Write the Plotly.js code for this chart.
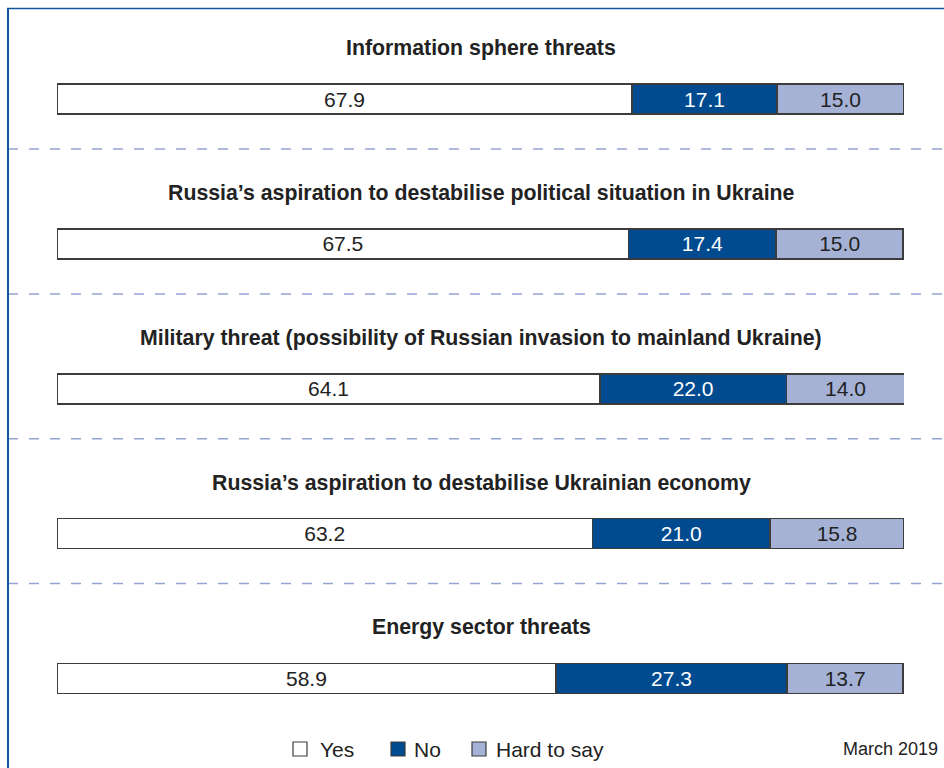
<!DOCTYPE html>
<html>
<head>
<meta charset="utf-8">
<script src="https://cdn.plot.ly/plotly-3.0.1.min.js"></script>
<style>
  html, body { margin: 0; padding: 0; background: #ffffff; }
  #chart { width: 944px; height: 768px; }
</style>
</head>
<body>
<div id="chart"></div>
<script>
const categories = [
  "Information sphere threats",
  "Russia\u2019s aspiration to destabilise political situation in Ukraine",
  "Military threat (possibility of Russian invasion to mainland Ukraine)",
  "Russia\u2019s aspiration to destabilise Ukrainian economy",
  "Energy sector threats"
];
const yesValues = [67.9, 67.5, 64.1, 63.2, 58.9];
const noValues = [17.1, 17.4, 22.0, 21.0, 27.3];
const hardValues = [15.0, 15.0, 14.0, 15.8, 13.7];
const seriesNames = ["Yes", "No", "Hard to say"];
const seriesColors = ["#ffffff", "#004a8f", "#a5b2d6"];
const dateLabel = "March 2019";

const FONT = "Liberation Sans, Arial, Helvetica, sans-serif";
const BAR_W = 0.207;

function barTrace(name, values, fill, textColor) {
  return {
    type: "bar",
    orientation: "h",
    name: name,
    y: categories,
    x: values,
    width: BAR_W,
    marker: { color: fill, line: { color: "#3c3c3c", width: 1.5 } },
    text: values.map(v => v.toFixed(1)),
    textposition: "inside",
    insidetextanchor: "middle",
    textangle: 0,
    constraintext: "none",
    textfont: { family: FONT, size: 21, color: textColor },
    hoverinfo: "name+x",
    showlegend: false
  };
}

const traces = [
  barTrace(seriesNames[0], yesValues, seriesColors[0], "#222222"),
  barTrace(seriesNames[1], noValues, seriesColors[1], "#ffffff"),
  barTrace(seriesNames[2], hardValues, seriesColors[2], "#222222")
];

const annotations = categories.map(c => ({
  xref: "paper", yref: "y",
  x: 481 / 944, y: c,
  yshift: 51,
  text: "<b>" + c + "</b>",
  showarrow: false,
  xanchor: "center", yanchor: "middle",
  font: { family: FONT, size: 21.3, color: "#222222" }
}));
annotations.push({
  xref: "paper", yref: "paper",
  x: 940 / 944, y: 1 - 749 / 768,
  text: dateLabel,
  showarrow: false,
  xanchor: "right", yanchor: "middle",
  font: { family: FONT, size: 18, color: "#222222" }
});

const shapes = [];
for (let i = 0; i < categories.length - 1; i++) {
  shapes.push({
    type: "line", xref: "paper", yref: "y",
    x0: 8 / 944, x1: 1, y0: i + 0.345, y1: i + 0.345,
    line: { color: "#94a3d2", width: 1.5, dash: "10px,11px" }
  });
}
// frame lines (top and left)
shapes.push({ type: "line", xref: "paper", yref: "paper",
  x0: 7 / 944, x1: 1, y0: 1 - 8.5 / 768, y1: 1 - 8.5 / 768,
  line: { color: "#1353a0", width: 1.5 } });
shapes.push({ type: "line", xref: "paper", yref: "paper",
  x0: 8 / 944, x1: 8 / 944, y0: 1 - 8 / 768, y1: 0,
  line: { color: "#1353a0", width: 2 } });

// custom legend (boxes + labels)
const legendBoxX = [293, 391, 472];
const legendTextX = [318, 412, 494];
const legendY = 749;
const BOX = 14;
for (let i = 0; i < seriesNames.length; i++) {
  shapes.push({
    type: "rect", xref: "paper", yref: "paper",
    x0: legendBoxX[i] / 944, x1: (legendBoxX[i] + BOX) / 944,
    y0: 1 - (legendY + BOX / 2) / 768, y1: 1 - (legendY - BOX / 2) / 768,
    fillcolor: seriesColors[i],
    line: { color: "#3c3c3c", width: 1.2 }
  });
  annotations.push({
    xref: "paper", yref: "paper",
    x: legendTextX[i] / 944, y: 1 - legendY / 768,
    text: seriesNames[i],
    showarrow: false,
    xanchor: "left", yanchor: "middle",
    font: { family: FONT, size: 21, color: "#222222" }
  });
}

const layout = {
  width: 944, height: 768,
  margin: { l: 0, r: 0, t: 0, b: 0 },
  paper_bgcolor: "#ffffff",
  plot_bgcolor: "#ffffff",
  barmode: "stack",
  showlegend: false,
  xaxis: {
    domain: [57 / 944, 904 / 944],
    range: [0, 100],
    visible: false,
    fixedrange: true
  },
  yaxis: {
    type: "category",
    categoryarray: categories,
    categoryorder: "array",
    range: [4.618, -0.684],
    visible: false,
    fixedrange: true
  },
  annotations: annotations,
  shapes: shapes,
  font: { family: FONT }
};

Plotly.newPlot("chart", traces, layout, { displayModeBar: false, staticPlot: true });
</script>
</body>
</html>
